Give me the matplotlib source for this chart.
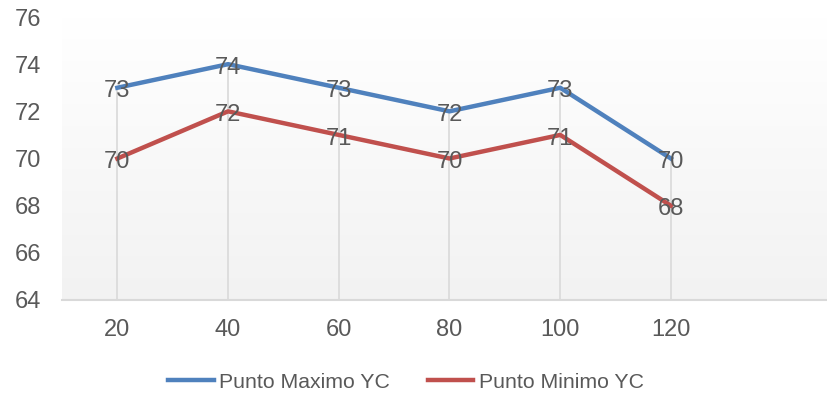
import numpy as np
import matplotlib
matplotlib.use("Agg")
import matplotlib.pyplot as plt
from matplotlib.colors import LinearSegmentedColormap

plt.rcParams["font.family"] = ["Liberation Sans", "DejaVu Sans"]

categorias = ["20", "40", "60", "80", "100", "120"]
maximo_yc = [73, 74, 73, 72, 73, 70]
minimo_yc = [70, 72, 71, 70, 71, 68]

gris_texto = "#595959"
azul = "#4f81bd"
rojo = "#c0504d"

fig = plt.figure(figsize=(8.27, 3.94), dpi=100)
ax = fig.add_axes([62 / 827, 94 / 394, 765 / 827, 283 / 394])

x = np.arange(len(categorias))
ax.set_xlim(-0.5, 6.41)
ax.set_ylim(64, 76)

# fondo degradado del area de trazado
grad = LinearSegmentedColormap.from_list("fondo", ["#f2f2f2", "#ffffff"])
ax.imshow(np.linspace(0, 1, 256).reshape(-1, 1), cmap=grad, aspect="auto",
          extent=(-0.5, 6.41, 64, 76), origin="lower", zorder=0)

# lineas de caida desde cada punto hasta el eje
ax.vlines(x, 64, maximo_yc, color="#d9d9d9", lw=1.2, zorder=1)

ax.plot(x, maximo_yc, color=azul, lw=3.2, label="Punto Maximo YC", zorder=2)
ax.plot(x, minimo_yc, color=rojo, lw=3.2, label="Punto Minimo YC", zorder=2)

for serie in (maximo_yc, minimo_yc):
    for xi, v in zip(x, serie):
        ax.annotate(str(v), (xi, v), xytext=(0, -7), textcoords="offset points",
                    ha="center", va="baseline", fontsize=17,
                    color=gris_texto, zorder=3)

ax.set_xticks(x)
ax.set_xticklabels(categorias)
ax.set_yticks(np.arange(64, 77, 2))
ax.tick_params(axis="both", length=0, labelsize=17, labelcolor=gris_texto)
ax.tick_params(axis="y", pad=15)
ax.tick_params(axis="x", pad=14)

for lado in ["left", "right", "top"]:
    ax.spines[lado].set_visible(False)
ax.spines["bottom"].set_color("#d9d9d9")
ax.spines["bottom"].set_linewidth(1.5)
ax.spines["bottom"].set_zorder(4)

fig.legend(loc="center", bbox_to_anchor=(406 / 827, 1 - 382 / 394), ncol=2,
           frameon=False, fontsize=15.3, handlelength=2.15, handletextpad=0.25,
           columnspacing=1.75, labelcolor=gris_texto)

fig.savefig("out.png", dpi=100)
